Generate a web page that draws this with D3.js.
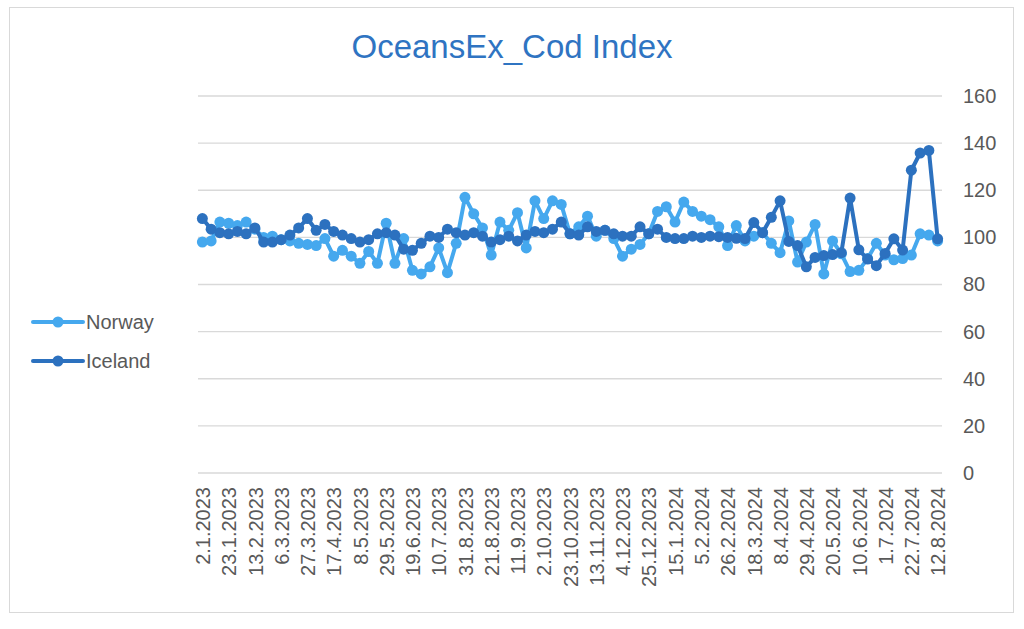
<!DOCTYPE html>
<html>
<head>
<meta charset="utf-8">
<script src="https://cdn.jsdelivr.net/npm/d3@7"></script>
<style>
  html, body { margin: 0; padding: 0; background: #fff; }
  svg { display: block; font-family: "Liberation Sans", Arial, Helvetica, sans-serif; }
</style>
</head>
<body>
<svg id="chart" width="1024" height="629"></svg>
<script>
const title = "OceansEx_Cod Index";

const categories = [
  "2.1.2023","9.1.2023","16.1.2023","23.1.2023","30.1.2023","6.2.2023","13.2.2023","20.2.2023","27.2.2023",
  "6.3.2023","13.3.2023","20.3.2023","27.3.2023","3.4.2023","10.4.2023","17.4.2023","24.4.2023",
  "1.5.2023","8.5.2023","15.5.2023","22.5.2023","29.5.2023","5.6.2023","12.6.2023","19.6.2023","26.6.2023",
  "3.7.2023","10.7.2023","17.7.2023","24.7.2023","31.8.2023","7.8.2023","14.8.2023","21.8.2023","28.8.2023",
  "4.9.2023","11.9.2023","18.9.2023","25.9.2023","2.10.2023","9.10.2023","16.10.2023","23.10.2023","30.10.2023",
  "6.11.2023","13.11.2023","20.11.2023","27.11.2023","4.12.2023","11.12.2023","18.12.2023","25.12.2023",
  "1.1.2024","8.1.2024","15.1.2024","22.1.2024","29.1.2024","5.2.2024","12.2.2024","19.2.2024","26.2.2024",
  "4.3.2024","11.3.2024","18.3.2024","25.3.2024","1.4.2024","8.4.2024","15.4.2024","22.4.2024","29.4.2024",
  "6.5.2024","13.5.2024","20.5.2024","27.5.2024","3.6.2024","10.6.2024","17.6.2024","24.6.2024",
  "1.7.2024","8.7.2024","15.7.2024","22.7.2024","29.7.2024","5.8.2024","12.8.2024"
];

const norway = [
  98, 98.5, 106.5, 106, 105, 106.5, 103.5, 100, 100.5, 99,
  98.5, 97.5, 97, 96.5, 99.5, 92, 94.5, 92, 89, 94,
  89, 106, 89, 99.5, 86, 84.5, 87.5, 95.5, 85, 97.5,
  117, 110, 104, 92.5, 106.5, 103, 110.5, 95.5, 115.5, 108,
  115.5, 114, 101.5, 104.5, 109, 100.5, 103, 99.5, 92, 95,
  97, 101.5, 111, 113, 106.5, 115, 111, 109, 107.5, 104.5,
  96.5, 105, 98.5, 100.5, 102, 97.5, 93.5, 107, 89.5, 98,
  105.5, 84.5, 98.5, 93, 85.5, 86, 91, 97.5, 92.5, 90.5,
  91, 92.5, 101.5, 101, 98.5
];

const iceland = [
  108, 103.5, 102, 101.5, 102.5, 101.5, 104, 98, 98, 99,
  101, 104, 108, 103, 105.5, 102.5, 101, 99.5, 98, 99,
  101.5, 102, 101, 95, 94.5, 97.5, 100.5, 100, 103.5, 102,
  101, 102, 100.5, 98, 99, 100.5, 98.5, 101, 102.5, 102,
  103.5, 106.5, 101.5, 101, 104.5, 102.5, 103, 101.5, 100.5, 100.5,
  104.5, 101.5, 103.5, 100, 99.5, 99.5, 100.5, 100, 100.5, 100.3,
  100, 99.6, 99.5, 106.3, 102, 108.5, 115.5, 98.3, 96.5, 87.5,
  91.5, 92.3, 92.7, 93.5, 116.7, 94.7, 90.8, 88, 93.2, 99.4,
  94.6, 128.5, 135.8, 136.9, 99.4
];

const yTicks = [0, 20, 40, 60, 80, 100, 120, 140, 160];
const seriesNames = ["Norway", "Iceland"];
const seriesColors = ["#45a8ee", "#2c71bf"];

const svg = d3.select("#chart");
const plotLeft = 198, plotRight = 942, plotTop = 96, plotBottom = 473;

svg.append("rect")
  .attr("x", 9.5).attr("y", 7.5).attr("width", 1004).attr("height", 605)
  .attr("fill", "#fff").attr("stroke", "#d9d9d9").attr("stroke-width", 1);

svg.append("text")
  .attr("x", 512).attr("y", 58)
  .attr("text-anchor", "middle")
  .attr("fill", "#2f74c2")
  .attr("font-size", 33)
  .text(title);

const x = d3.scalePoint().domain(categories).range([plotLeft, plotRight]).padding(0.5);
const y = d3.scaleLinear().domain([0, 160]).range([plotBottom, plotTop]);

// gridlines
svg.append("g").selectAll("line").data(yTicks).join("line")
  .attr("x1", plotLeft).attr("x2", plotRight)
  .attr("y1", d => y(d)).attr("y2", d => y(d))
  .attr("stroke", "#d9d9d9").attr("stroke-width", 1.3);

// right y axis labels
const yAxis = d3.axisRight(y).tickValues(yTicks).tickSize(0).tickPadding(21);
const gy = svg.append("g").attr("transform", `translate(${plotRight},0)`).call(yAxis);
gy.select(".domain").remove();
gy.selectAll("text").attr("font-size", 20).attr("fill", "#595959")
  .attr("font-family", "Liberation Sans, Arial, sans-serif");

// x axis
const xAxis = d3.axisBottom(x)
  .tickValues(categories.filter((d, i) => i % 3 === 0))
  .tickSize(0).tickPadding(0);
const gx = svg.append("g").attr("transform", `translate(0,${plotBottom})`).call(xAxis);
gx.select(".domain").remove();
gx.selectAll("text")
  .attr("font-size", 20).attr("fill", "#595959")
  .attr("font-family", "Liberation Sans, Arial, sans-serif")
  .attr("text-anchor", "end")
  .attr("transform", "translate(0,14) rotate(-90)")
  .attr("x", 0).attr("y", 0).attr("dy", "0.36em");

// series
const data = [norway, iceland];
const line = d3.line().x((d, i) => x(categories[i])).y(d => y(d));
data.forEach((vals, s) => {
  const g = svg.append("g");
  g.append("path").datum(vals)
    .attr("d", line).attr("fill", "none")
    .attr("stroke", seriesColors[s]).attr("stroke-width", 4)
    .attr("stroke-linejoin", "round");
  g.selectAll("circle").data(vals).join("circle")
    .attr("cx", (d, i) => x(categories[i])).attr("cy", d => y(d))
    .attr("r", 5.5).attr("fill", seriesColors[s]);
});

// legend
const legY = [322, 361];
seriesNames.forEach((name, s) => {
  const g = svg.append("g");
  g.append("line").attr("x1", 33).attr("x2", 83).attr("y1", legY[s]).attr("y2", legY[s])
    .attr("stroke", seriesColors[s]).attr("stroke-width", 4).attr("stroke-linecap", "round");
  g.append("circle").attr("cx", 58).attr("cy", legY[s]).attr("r", 5.5).attr("fill", seriesColors[s]);
  g.append("text").attr("x", 86).attr("y", legY[s]).attr("dy", "0.36em")
    .attr("font-size", 20).attr("fill", "#595959").text(name);
});
</script>
</body>
</html>
